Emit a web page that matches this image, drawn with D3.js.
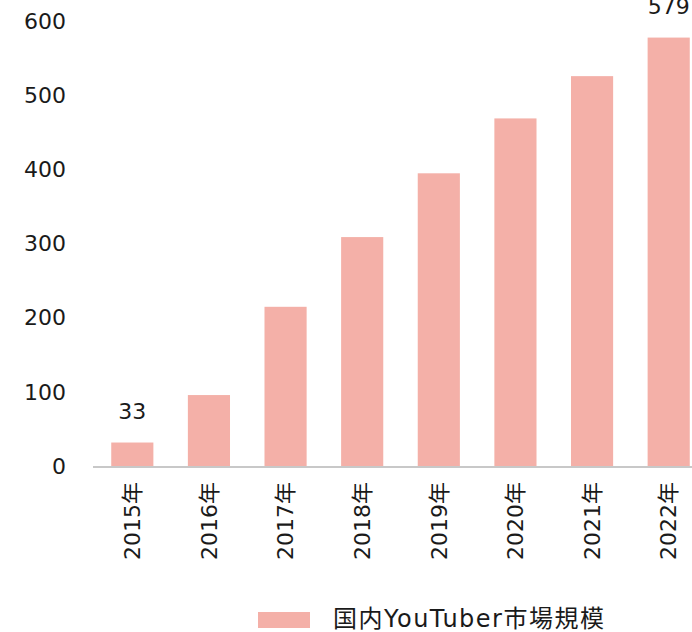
<!DOCTYPE html>
<html>
<head>
<meta charset="utf-8">
<script src="https://cdn.jsdelivr.net/npm/d3@7"></script>
<style>
  body { margin: 0; background: #fff; }
  svg text { font-family: "DejaVu Sans", "Noto Sans CJK JP", sans-serif; fill: #1a1a1a; }
</style>
</head>
<body>
<script>
"use strict";

// data
var years = ["2015年", "2016年", "2017年", "2018年", "2019年", "2020年", "2021年", "2022年"];
var marketSize = [33, 97, 216, 310, 396, 470, 527, 579];
var labelled = ["2015年", "2022年"]; // only these bars show a value
var yTicks = [0, 100, 200, 300, 400, 500, 600];
var seriesName = "国内YouTuber市場規模";
var unitLabel = "(億円)";

var W = 692, H = 632;
var barColor = "#f4b0a8";

var svg = d3.select("body").append("svg")
    .attr("width", W)
    .attr("height", H);

var x = d3.scaleBand()
    .domain(years)
    .range([94, 707])
    .paddingInner(0.45)
    .paddingOuter(0.225);

var y = d3.scaleLinear()
    .domain([0, 600])
    .range([467, 22]);

// y tick labels (no axis line)
svg.selectAll("text.ytick")
    .data(yTicks)
    .enter()
    .append("text")
    .attr("class", "ytick")
    .attr("x", 66)
    .attr("y", function(d) { return y(d) - 1; })
    .attr("dy", "0.35em")
    .attr("text-anchor", "end")
    .style("font-size", "22px")
    .text(function(d) { return d; });

// unit, mostly clipped at the top
svg.append("text")
    .attr("x", 100)
    .attr("y", -3)
    .style("font-size", "20px")
    .style("fill", "#555")
    .text(unitLabel);

// bars
var data = years.map(function(d, i) { return { year: d, value: marketSize[i] }; });

svg.selectAll("rect.bar")
    .data(data)
    .enter()
    .append("rect")
    .attr("class", "bar")
    .attr("x", function(d) { return x(d.year); })
    .attr("y", function(d) { return y(d.value); })
    .attr("width", x.bandwidth())
    .attr("height", function(d) { return y(0) - y(d.value); })
    .attr("fill", barColor);

// value labels
svg.selectAll("text.val")
    .data(data.filter(function(d) { return labelled.indexOf(d.year) >= 0; }))
    .enter()
    .append("text")
    .attr("class", "val")
    .attr("x", function(d) { return x(d.year) + x.bandwidth() / 2; })
    .attr("y", function(d) { return y(d.value) - 24; })
    .attr("text-anchor", "middle")
    .style("font-size", "22px")
    .text(function(d) { return d.value; });

// x axis baseline
var xAxis = svg.append("g")
    .attr("transform", "translate(0," + y(0) + ")")
    .call(d3.axisBottom(x).tickSize(0).tickPadding(0));
xAxis.select(".domain")
    .attr("d", "M93,0H" + W)
    .attr("stroke", "#c8c8c8")
    .attr("stroke-width", 2);
xAxis.selectAll(".tick text")
    .attr("transform", "translate(0,15) rotate(-90)")
    .attr("x", 0)
    .attr("y", 0)
    .attr("dy", "0.35em")
    .attr("text-anchor", "end")
    .style("font-size", "22px")
    .style("font-family", "'DejaVu Sans', 'Noto Sans CJK JP', sans-serif")
    .attr("fill", "#1a1a1a");

// legend
var legend = svg.append("g").attr("transform", "translate(258,612)");
legend.append("rect")
    .attr("width", 52)
    .attr("height", 16)
    .attr("fill", barColor);
legend.append("text")
    .attr("x", 75)
    .attr("y", 7)
    .attr("dy", "0.35em")
    .style("font-size", "24px")
    .style("letter-spacing", "1.5px")
    .text(seriesName);
</script>
</body>
</html>
